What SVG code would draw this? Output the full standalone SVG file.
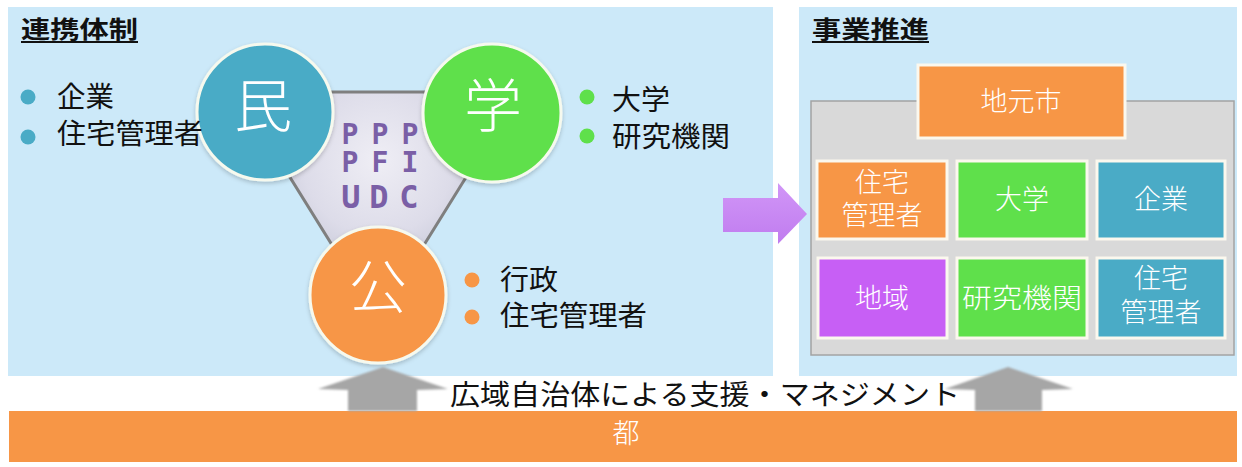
<svg xmlns="http://www.w3.org/2000/svg" width="1242" height="467" viewBox="0 0 1242 467">
  <defs>
    <radialGradient id="triFill" cx="378" cy="160" r="150" gradientUnits="userSpaceOnUse">
      <stop offset="0" stop-color="#efeef5"/>
      <stop offset="0.5" stop-color="#dddce9"/>
      <stop offset="1" stop-color="#b5b9ca"/>
    </radialGradient>
    <linearGradient id="purpleArrow" x1="0" y1="0" x2="0" y2="1">
      <stop offset="0" stop-color="#d196f7"/>
      <stop offset="1" stop-color="#c07cef"/>
    </linearGradient>
    <filter id="soft" x="-10%" y="-10%" width="120%" height="130%">
      <feGaussianBlur in="SourceAlpha" stdDeviation="2"/>
      <feOffset dx="0" dy="2" result="b"/>
      <feFlood flood-color="#000" flood-opacity="0.2"/>
      <feComposite in2="b" operator="in"/>
      <feMerge><feMergeNode/><feMergeNode in="SourceGraphic"/></feMerge>
    </filter>
    <filter id="blur1" x="-5%" y="-10%" width="110%" height="120%">
      <feGaussianBlur stdDeviation="0.8"/>
    </filter>
  </defs>
  <style>
    .panel { fill: #cce9f9; }
    .head { font-family: "Noto Sans CJK JP", "Noto Sans", sans-serif; font-weight: 700; font-size: 24px; fill: #111; }
    .ul { stroke: #111; stroke-width: 2; }
    .bul { font-family: "Noto Sans CJK JP", "Noto Sans", sans-serif; font-size: 28px; fill: #111; }
    .circ { stroke: #f6f9ee; stroke-width: 3; }
    .clab { font-family: "Noto Sans CJK JP", "Noto Sans", sans-serif; font-weight: 300; font-size: 58px; fill: #fff; text-anchor: middle; }
    .ppp { font-family: "DejaVu Sans Mono", "Liberation Mono", monospace; font-weight: 700; fill: #7a5fa6; text-anchor: middle; }
    .box { stroke: #fbf8ee; stroke-width: 3; }
    .blab { font-family: "Noto Sans CJK JP", "Noto Sans", sans-serif; font-weight: 300; font-size: 27px; fill: #fff; text-anchor: middle; }
    .orange { fill: #f79646; }
    .green { fill: #5fe04b; }
    .blue { fill: #4aabc6; }
    .purple { fill: #c75ff5; }
    .garrow { fill: #a6a6a6; }
  </style>

  <rect width="1242" height="467" fill="#ffffff"/>

  <!-- panels -->
  <g id="panel-left">
    <rect class="panel" x="8" y="7" width="765" height="369"/>
    <text class="head" x="21" y="38" textLength="117" lengthAdjust="spacingAndGlyphs">連携体制</text>
    <line class="ul" x1="21" y1="42" x2="138" y2="42"/>
  </g>
  <g id="panel-right">
    <rect class="panel" x="799" y="7" width="438" height="369"/>
    <text class="head" x="812" y="38" textLength="117" lengthAdjust="spacingAndGlyphs">事業推進</text>
    <line class="ul" x1="812" y1="42" x2="929" y2="42"/>
  </g>

  <!-- triangle -->
  <g id="triangle">
    <polygon points="237,92 519,92 378,319" fill="url(#triFill)" stroke="#7f7f7f" stroke-width="3"/>
    <text class="ppp" font-size="28" x="350 380 410" y="144">PPP</text>
    <text class="ppp" font-size="28" x="350 380 410" y="172">PFI</text>
    <text class="ppp" font-size="32" x="351 379 409" y="208">UDC</text>
  </g>

  <!-- circles -->
  <g id="node-min" filter="url(#soft)">
    <circle class="circ blue" cx="265" cy="112" r="68"/>
    <text class="clab" x="263" y="127">民</text>
  </g>
  <g id="node-gaku" filter="url(#soft)">
    <circle class="circ green" cx="492" cy="113" r="69"/>
    <text class="clab" x="493" y="127">学</text>
  </g>
  <g id="node-kou" filter="url(#soft)">
    <circle class="circ orange" cx="378" cy="295" r="68"/>
    <text class="clab" x="378" y="308">公</text>
  </g>

  <!-- bullets -->
  <g id="bullets-min">
    <circle class="blue" cx="28" cy="97" r="7.5"/>
    <circle class="blue" cx="28" cy="137" r="7.5"/>
    <text class="bul" x="57" y="107" textLength="57" lengthAdjust="spacingAndGlyphs">企業</text>
    <text class="bul" x="57" y="144" textLength="146" lengthAdjust="spacingAndGlyphs">住宅管理者</text>
  </g>
  <g id="bullets-gaku">
    <circle class="green" cx="587" cy="97" r="7.5"/>
    <circle class="green" cx="587" cy="136" r="7.5"/>
    <text class="bul" x="612" y="110" textLength="58" lengthAdjust="spacingAndGlyphs">大学</text>
    <text class="bul" x="612" y="147" textLength="118" lengthAdjust="spacingAndGlyphs">研究機関</text>
  </g>
  <g id="bullets-kou">
    <circle class="orange" cx="472" cy="280" r="7.5"/>
    <circle class="orange" cx="472" cy="317" r="7.5"/>
    <text class="bul" x="500" y="290" textLength="58" lengthAdjust="spacingAndGlyphs">行政</text>
    <text class="bul" x="500" y="326" textLength="147" lengthAdjust="spacingAndGlyphs">住宅管理者</text>
  </g>

  <!-- right panel boxes -->
  <g id="group-box">
    <rect x="811" y="101" width="423" height="254" fill="#d9d9d9" stroke="#a3a3a3" stroke-width="1.5"/>
  </g>
  <g id="node-jimoto">
    <rect class="box orange" x="918" y="65" width="207" height="73"/>
    <text class="blab" x="1021" y="111">地元市</text>
  </g>
  <g id="node-jutaku1">
    <rect class="box orange" x="817" y="161" width="130" height="78"/>
    <text class="blab" x="882" y="192">住宅</text>
    <text class="blab" x="882" y="225">管理者</text>
  </g>
  <g id="node-daigaku">
    <rect class="box green" x="957" y="161" width="130" height="78"/>
    <text class="blab" x="1022" y="209">大学</text>
  </g>
  <g id="node-kigyo">
    <rect class="box blue" x="1097" y="161" width="128" height="78"/>
    <text class="blab" x="1161" y="209">企業</text>
  </g>
  <g id="node-chiiki">
    <rect class="box purple" x="818" y="258" width="129" height="80"/>
    <text class="blab" x="882" y="308">地域</text>
  </g>
  <g id="node-kenkyu">
    <rect class="box green" x="957" y="258" width="130" height="80"/>
    <text class="blab" x="1022" y="308" textLength="120" lengthAdjust="spacingAndGlyphs">研究機関</text>
  </g>
  <g id="node-jutaku2">
    <rect class="box blue" x="1097" y="258" width="128" height="80"/>
    <text class="blab" x="1161" y="288">住宅</text>
    <text class="blab" x="1161" y="322">管理者</text>
  </g>

  <!-- bottom bar -->
  <g id="node-to">
    <rect class="orange" x="9" y="411" width="1228" height="51"/>
    <text class="blab" x="626" y="443">都</text>
  </g>

  <!-- connectors -->
  <g id="connectors">
    <polygon points="723,198 778,198 778,183 807,214 778,244 778,232 723,232" fill="url(#purpleArrow)"/>
    <polygon class="garrow" filter="url(#blur1)" points="383,367 448,389 417,390 417,411 348,411 348,390 318,389"/>
    <polygon class="garrow" filter="url(#blur1)" points="1008,367 1073,389 1042,390 1042,411 975,411 975,390 945,389"/>
    <text x="450" y="405" font-family="'Noto Sans CJK JP', 'Noto Sans', sans-serif" font-size="28" fill="#111" textLength="510" lengthAdjust="spacingAndGlyphs">広域自治体による支援・マネジメント</text>
  </g>
</svg>
